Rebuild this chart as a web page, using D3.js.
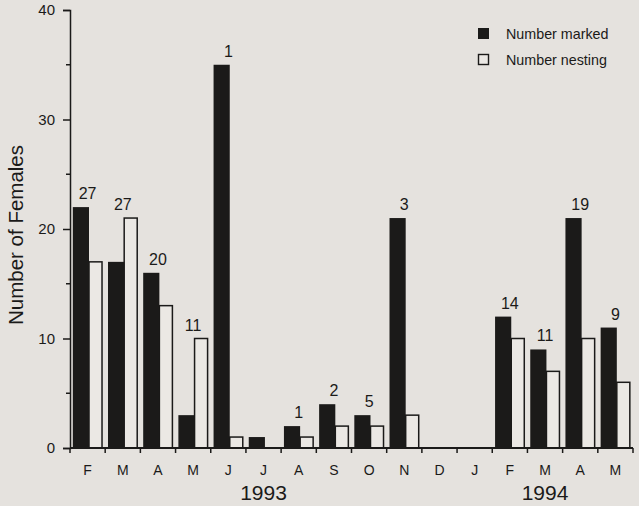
<!DOCTYPE html>
<html>
<head>
<meta charset="utf-8">
<script src="https://cdn.jsdelivr.net/npm/d3@7"></script>
<style>
  body { margin: 0; background: #e5e2de; }
  svg { display: block; font-family: "Liberation Sans", Arial, sans-serif; }
</style>
</head>
<body>
<div id="chart"></div>
<script>
// months, Feb 1993 to May 1994
const months = ['F', 'M', 'A', 'M', 'J', 'J', 'A', 'S', 'O', 'N', 'D', 'J', 'F', 'M', 'A', 'M'];
const marked = [22, 17, 16, 3, 35, 1, 2, 4, 3, 21, 0, 0, 12, 9, 21, 11];
const nesting = [17, 21, 13, 10, 1, 0, 1, 2, 2, 3, 0, 0, 10, 7, 10, 6];
const topLabels = ['27', '27', '20', '11', '1', '', '1', '2', '5', '3', '', '', '14', '11', '19', '9'];
const years = [{label: '1993', month: 5}, {label: '1994', month: 13}];
const yTicks = [0, 10, 20, 30, 40];
const yMinor = [5, 15, 25, 35];

const width = 639, height = 506;
const margin = {top: 10, right: 6, bottom: 58, left: 70};
const ink = '#1b1a19';

const svg = d3.select('#chart').append('svg')
  .attr('width', width)
  .attr('height', height);

const x = d3.scaleBand()
  .domain(d3.range(months.length))
  .range([margin.left, width - margin.right])
  .padding(0);

const y = d3.scaleLinear()
  .domain([0, 40])
  .range([height - margin.bottom, margin.top]);

const bw = x.bandwidth();
const data = months.map((m, i) => ({i: i, m: m, marked: marked[i], nesting: nesting[i], label: topLabels[i]}));

// bars
const g = svg.append('g');
g.selectAll('rect.nest')
  .data(data.filter(d => d.nesting > 0))
  .enter().append('rect')
  .attr('class', 'nest')
  .attr('x', d => x(d.i) + bw * 0.54)
  .attr('y', d => y(d.nesting))
  .attr('width', bw * 0.37)
  .attr('height', d => y(0) - y(d.nesting))
  .attr('fill', '#ebe8e4')
  .attr('stroke', ink)
  .attr('stroke-width', 1.5);

g.selectAll('rect.mark')
  .data(data.filter(d => d.marked > 0))
  .enter().append('rect')
  .attr('class', 'mark')
  .attr('x', d => x(d.i) + bw * 0.08)
  .attr('y', d => y(d.marked))
  .attr('width', bw * 0.46)
  .attr('height', d => y(0) - y(d.marked))
  .attr('fill', ink);

// counts above bars
svg.append('g').selectAll('text')
  .data(data.filter(d => d.label))
  .enter().append('text')
  .attr('x', d => x(d.i) + bw / 2)
  .attr('y', d => y(Math.max(d.marked, d.nesting)) - 8)
  .attr('text-anchor', 'middle')
  .attr('font-size', 16)
  .attr('fill', ink)
  .text(d => d.label);

// y axis
const yAxis = svg.append('g')
  .attr('transform', `translate(${margin.left},0)`)
  .call(d3.axisLeft(y).tickValues(yTicks).tickSize(7).tickPadding(8));
yAxis.selectAll('text').attr('font-size', 15).attr('fill', ink);
yAxis.select('.domain').attr('stroke', ink).attr('stroke-width', 1.5);
yAxis.selectAll('.tick line').attr('stroke', ink).attr('stroke-width', 1.5);

// minor ticks
svg.append('g').selectAll('line')
  .data(yMinor)
  .enter().append('line')
  .attr('x1', margin.left - 4)
  .attr('x2', margin.left)
  .attr('y1', d => y(d))
  .attr('y2', d => y(d))
  .attr('stroke', ink)
  .attr('stroke-width', 1.5);

// x axis
const xBase = svg.append('g')
  .attr('transform', `translate(0,${y(0)})`);
xBase.append('line')
  .attr('x1', margin.left)
  .attr('x2', width - margin.right)
  .attr('stroke', ink)
  .attr('stroke-width', 2);
xBase.selectAll('line.tick')
  .data(d3.range(months.length + 1))
  .enter().append('line')
  .attr('class', 'tick')
  .attr('x1', d => margin.left + d * bw)
  .attr('x2', d => margin.left + d * bw)
  .attr('y1', 0)
  .attr('y2', 5)
  .attr('stroke', ink)
  .attr('stroke-width', 1.5);
xBase.selectAll('text')
  .data(data)
  .enter().append('text')
  .attr('x', d => x(d.i) + bw / 2)
  .attr('y', 27)
  .attr('text-anchor', 'middle')
  .attr('font-size', 14)
  .attr('fill', ink)
  .text(d => d.m);

// years
svg.append('g').selectAll('text')
  .data(years)
  .enter().append('text')
  .attr('x', d => x(d.month) + bw / 2)
  .attr('y', height - 6)
  .attr('text-anchor', 'middle')
  .attr('font-size', 21)
  .attr('fill', ink)
  .text(d => d.label);

// y title
svg.append('text')
  .attr('transform', `translate(23,235) rotate(-90)`)
  .attr('text-anchor', 'middle')
  .attr('font-size', 20.5)
  .attr('fill', ink)
  .text('Number of Females');

// legend
const legend = svg.append('g').attr('transform', 'translate(478,28)');
legend.append('rect')
  .attr('width', 11).attr('height', 11)
  .attr('fill', ink);
legend.append('rect')
  .attr('x', 0.5).attr('y', 26.5)
  .attr('width', 10).attr('height', 10)
  .attr('fill', '#ebe8e4')
  .attr('stroke', ink)
  .attr('stroke-width', 1.4);
legend.append('text')
  .attr('x', 28).attr('y', 11)
  .attr('font-size', 14.3)
  .attr('fill', ink)
  .text('Number marked');
legend.append('text')
  .attr('x', 28).attr('y', 37)
  .attr('font-size', 14.3)
  .attr('fill', ink)
  .text('Number nesting');
</script>
</body>
</html>
